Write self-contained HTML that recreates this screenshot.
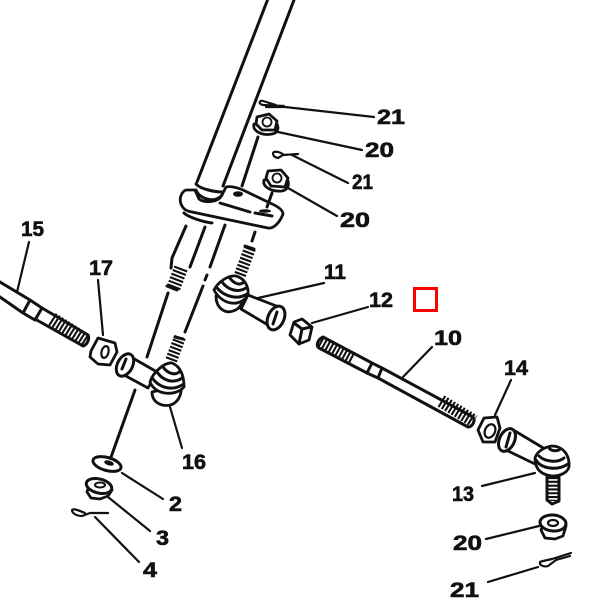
<!DOCTYPE html>
<html><head><meta charset="utf-8"><style>
html,body{margin:0;padding:0;background:#fff}
svg{display:block}
text{font-family:"Liberation Sans",sans-serif;font-size:21px;font-weight:700;fill:#111;stroke:#111;stroke-width:.6}
.l{fill:none;stroke:#111;stroke-width:2.2;stroke-linecap:round;stroke-linejoin:round}
.b{fill:none;stroke:#111;stroke-width:3;stroke-linecap:round;stroke-linejoin:round}
.w{fill:#fff;stroke:#111;stroke-width:2.8;stroke-linejoin:round}
.t{fill:none;stroke:#111;stroke-dasharray:2.1 1.7}
</style></head><body>
<svg width="600" height="600" viewBox="0 0 600 600" xmlns="http://www.w3.org/2000/svg">
<rect width="600" height="600" fill="#fff"/>
<!-- shaft -->
<path class="b" d="M267.5 0L197 182M294 0L223 186"/>
<!-- bracket -->
<path class="w" d="M186 190C181 192 179 199 181 204C183 209 186 211 192 212L268 228C274 229 280 222 283 214C283 210 277 206 270 203L243 190C236 187 230 186 226 187L222 195C218 203 204 203 199 199L195 190Z"/>
<path class="b" d="M196 184C200 189 215 192 222 192M196 190C199 199 215 204 222 195"/>
<path class="b" d="M220 203L250 212M255 213L272 216"/>
<ellipse cx="238" cy="194" rx="5" ry="2.8" fill="#111"/>
<ellipse cx="265" cy="211" rx="6" ry="1.8" fill="#111"/>
<!-- lower pin -->
<path class="b" d="M184 213C188 217 203 222 212 223"/>
<path class="b" d="M186 226L172 258L171 268M205 227L190 267"/>
<path class="t" d="M181 268L173 289" stroke-width="14"/>
<path class="b" d="M167 286L177 290"/>
<!-- dashed axes -->
<path class="b" d="M225 225L210 267M207 275L205 280M203 286L185 332"/>
<path class="b" d="M255 232L252 241"/>
<path class="b" d="M168 293L147 357"/>
<path class="b" d="M135 390L110 460"/>
<path class="b" d="M258 137L242 186M272 193L267 207"/>
<!-- top cotter + nut -->
<path class="l" d="M284 106L263 105C258 104 259 100 263 101L276 105M266 107L284 107"/>
<path class="w" d="M254 124C252 131 262 136 272 134C278 133 279 128 277 124Z"/>
<path class="w" d="M257 117L269 114L277 121L275 130L262 130L256 124Z"/>
<circle cx="267" cy="122" r="4.5" fill="#fff" stroke="#111" stroke-width="1.8"/>
<path class="l" d="M278 132L362 150"/>
<path class="l" d="M374 117L285 107"/>
<!-- second cotter + nut -->
<path class="l" d="M298 154L283 155L278 158C273 157 272 153 274 152C277 151 282 153 284 155"/>
<path class="l" d="M292 155L348 183"/>
<path class="w" d="M264 180C262 187 272 192 282 191C288 190 290 184 287 179Z"/>
<path class="w" d="M268 171L281 170L288 178L285 187L271 186L266 178Z"/>
<circle cx="277" cy="178" r="4.5" fill="#fff" stroke="#111" stroke-width="1.8"/>
<path class="l" d="M288 188L337 216"/>
<!-- rod 15 -->
<path class="b" d="M0 282L30 300L42 308L35 320L23 313L0 297M30 300L23 313"/>
<path class="b" d="M42 308L88 335C90 339 87 345 83 346L35 319"/>
<path class="t" d="M52 319L87 341" stroke-width="14"/>
<path class="l" d="M29 242L17 292"/>
<!-- nut 17 -->
<path class="w" d="M91 351L98 338L115 343L117 352L110 365L98 364L90 357Z"/>
<ellipse cx="105" cy="352" rx="3.5" ry="6" transform="rotate(15 105 352)" fill="#fff" stroke="#111" stroke-width="2.2"/>
<path class="l" d="M98 280L103 335"/>
<!-- tube + ball 16 -->
<path class="w" d="M131 357L157 372L148 388L124 375Z"/>
<ellipse cx="125" cy="365" rx="7.5" ry="12" transform="rotate(28 125 365)" fill="#fff" stroke="#111" stroke-width="3"/>
<path class="b" d="M122 369L126 359"/>
<path class="t" d="M180 337L171 361" stroke-width="12"/>
<path class="b" d="M175 337L183 339"/>
<path class="w" d="M152 392C152 404 165 408 173 404C180 400 182 392 181 385Z"/>
<path class="w" d="M150 382C153 372 165 362 172 363C180 366 184 375 184 387C175 397 155 395 150 382Z"/>
<path class="b" d="M153 379C160 388 172 391 182 385M157 372C163 381 174 384 182 378M163 367C168 374 176 376 180 371"/>
<path class="l" d="M170 407L182 448"/>
<!-- ball 11 -->
<path class="t" d="M250 248L240 275" stroke-width="12"/>
<path class="b" d="M245 246L254 249"/>
<path class="w" d="M216 296C216 308 225 314 233 311C240 309 243 303 242 298Z"/>
<path class="w" d="M214 290C218 282 228 275 236 276C244 278 249 286 248 295C240 308 222 305 214 290Z"/>
<path class="b" d="M217 288C225 297 238 300 247 294M222 282C228 290 238 293 246 288M229 277C234 284 240 286 244 282"/>
<path class="w" d="M248 295L279 307L268 325L241 309Z"/>
<ellipse cx="276" cy="318" rx="8" ry="12.5" transform="rotate(24 276 318)" fill="#fff" stroke="#111" stroke-width="3"/>
<path class="b" d="M273 324L277 312"/>
<path class="l" d="M258 298L324 283"/>
<!-- nut 12 -->
<path class="w" d="M290 335L294 322L302 319L312 327L309 340L299 344Z"/>
<path class="b" d="M294 323L302 329L299 344M302 329L311 327"/>
<path class="l" d="M312 323L368 307"/>
<!-- rod 10 -->
<path class="b" d="M323 337L372 363L382 368L378 378L367 373L319 348C316 346 317 340 323 337Z"/>
<path class="b" d="M372 363L367 373"/>
<path class="t" d="M320 342L353 360" stroke-width="13"/>
<path class="b" d="M382 368L473 417C476 421 472 427 468 427L378 378"/>
<path class="t" d="M441 401L474 421" stroke-width="13"/>
<path class="l" d="M403 377L432 347"/>
<!-- nut 14 -->
<path class="w" d="M478 430L484 418L497 417L500 428L495 442L483 442Z"/>
<ellipse cx="490" cy="431" rx="5" ry="7" transform="rotate(25 490 431)" fill="#fff" stroke="#111" stroke-width="2.2"/>
<path class="l" d="M495 415L511 380"/>
<!-- tube + ball 13 -->
<path class="w" d="M515 431L545 449L535 464L506 450Z"/>
<ellipse cx="507" cy="440" rx="7.5" ry="12" transform="rotate(25 507 440)" fill="#fff" stroke="#111" stroke-width="3"/>
<path class="b" d="M506 447L510 433"/>
<path class="w" d="M535 458C537 451 545 447 552 446C562 446 570 454 569 467C567 474 556 478 547 475C540 473 535 468 535 458Z"/>
<path class="b" d="M536 460C541 469 558 471 568 464M539 456C545 462 558 463 564 458"/>
<path class="b" d="M549 448C552 452 559 451 560 449"/>
<path class="t" d="M553 477L553 501" stroke-width="12"/>
<path class="b" d="M547 477L547 500L552 504L559 501L559 477"/>
<path class="l" d="M535 473L482 486"/>
<!-- nut 20 lower -->
<path class="w" d="M541 530L545 538L555 539L563 536L566 526L545 520Z"/>
<ellipse cx="553" cy="523" rx="13" ry="8" transform="rotate(5 553 523)" fill="#fff" stroke="#111" stroke-width="3"/>
<ellipse cx="553" cy="523" rx="5" ry="3" fill="#fff" stroke="#111" stroke-width="2.2"/>
<path class="l" d="M539 526L486 539"/>
<!-- cotter lower -->
<path class="l" d="M571 553L552 559C548 560 542 561 540 562C539 566 545 567 548 566L556 560L570 556"/>
<path class="l" d="M538 567L488 582"/>
<!-- washer 2 -->
<ellipse cx="107" cy="464" rx="14.5" ry="6.5" transform="rotate(16 107 464)" fill="#fff" stroke="#111" stroke-width="3"/>
<ellipse cx="109" cy="463" rx="5" ry="2.4" transform="rotate(16 109 463)" fill="#111"/>
<path class="l" d="M122 473L163 499"/>
<!-- nut 3 -->
<path class="w" d="M87 492L91 498L100 499L108 496L112 490L90 483Z"/>
<ellipse cx="99" cy="486" rx="13" ry="7" transform="rotate(14 99 486)" fill="#fff" stroke="#111" stroke-width="3"/>
<ellipse cx="100" cy="485" rx="5" ry="2.5" fill="#fff" stroke="#111" stroke-width="2"/>
<path class="l" d="M108 497L150 531"/>
<!-- cotter 4 -->
<path class="l" d="M108 513L90 513L82 516C76 516 72 513 72 510C74 508 80 511 85 513"/>
<path class="l" d="M95 517L139 562"/>
<!-- labels -->
<text x="377" y="124" textLength="28" lengthAdjust="spacingAndGlyphs">21</text>
<text x="365" y="157" textLength="29" lengthAdjust="spacingAndGlyphs">20</text>
<text x="352" y="189" textLength="21" lengthAdjust="spacingAndGlyphs">21</text>
<text x="340" y="227" textLength="30" lengthAdjust="spacingAndGlyphs">20</text>
<text x="21" y="236" textLength="23" lengthAdjust="spacingAndGlyphs">15</text>
<text x="89" y="275" textLength="24" lengthAdjust="spacingAndGlyphs">17</text>
<text x="324" y="279" textLength="22" lengthAdjust="spacingAndGlyphs">11</text>
<text x="369" y="307" textLength="24" lengthAdjust="spacingAndGlyphs">12</text>
<text x="434" y="345" textLength="28" lengthAdjust="spacingAndGlyphs">10</text>
<text x="504" y="375" textLength="24" lengthAdjust="spacingAndGlyphs">14</text>
<text x="452" y="501" textLength="22" lengthAdjust="spacingAndGlyphs">13</text>
<text x="453" y="550" textLength="29" lengthAdjust="spacingAndGlyphs">20</text>
<text x="450" y="597" textLength="29" lengthAdjust="spacingAndGlyphs">21</text>
<text x="182" y="469" textLength="24" lengthAdjust="spacingAndGlyphs">16</text>
<text x="169" y="511" textLength="13" lengthAdjust="spacingAndGlyphs">2</text>
<text x="156" y="545" textLength="13" lengthAdjust="spacingAndGlyphs">3</text>
<text x="143" y="577" textLength="14" lengthAdjust="spacingAndGlyphs">4</text>
<!-- red marker -->
<rect x="414.5" y="288.5" width="22" height="22" fill="none" stroke="#f00" stroke-width="3"/>
</svg>
</body></html>
